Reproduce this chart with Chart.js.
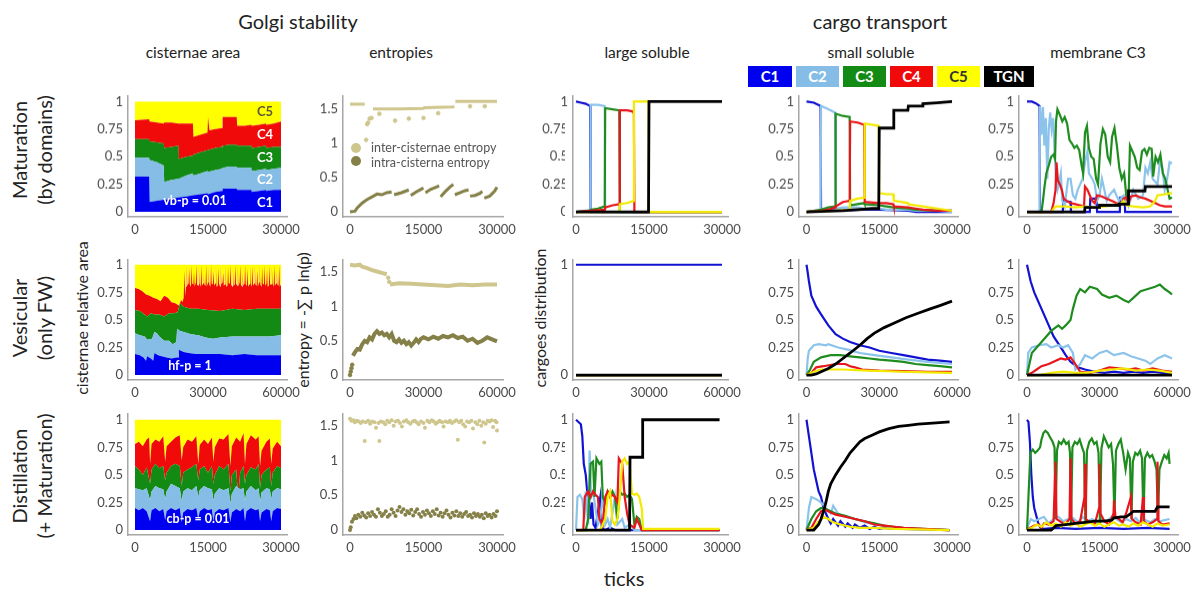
<!DOCTYPE html>
<html>
<head>
<meta charset="utf-8">
<script src="https://cdn.jsdelivr.net/npm/chart.js@4.4.1/dist/chart.umd.min.js"></script>
<style>
  body { margin: 0; width: 1195px; height: 593px; background: #fff; position: relative; overflow: hidden; font-family: Lato, sans-serif; color: #222; }
  .t { position: absolute; white-space: nowrap; transform: translate(-50%, -50%); }
  .v { position: absolute; white-space: nowrap; transform: translate(-50%, -50%) rotate(-90deg); text-align: center; line-height: 1.25; }
  .box { position: absolute; top: 66px; height: 21px; font: bold 15px Lato, sans-serif; color: #fff; text-align: center; line-height: 21px; }
  .cut { position: absolute; background: #fff; width: 7px; }
  canvas { position: absolute; }
</style>
</head>
<body>

<div class="t" style="left:298px;top:21px;font-size:20px;">Golgi stability</div>
<div class="t" style="left:880px;top:21px;font-size:20px;">cargo transport</div>

<div class="t" style="left:193px;top:52px;font-size:15.5px;">cisternae area</div>
<div class="t" style="left:401px;top:52px;font-size:15.5px;">entropies</div>
<div class="t" style="left:647px;top:52px;font-size:15.5px;">large soluble</div>
<div class="t" style="left:871px;top:52px;font-size:15.5px;">small soluble</div>
<div class="t" style="left:1098px;top:52px;font-size:15.5px;">membrane C3</div>

<div class="box" style="left:748px;width:44px;background:#0000f0;">C1</div>
<div class="box" style="left:796px;width:43px;background:#85bde6;">C2</div>
<div class="box" style="left:843px;width:43px;background:#138a13;">C3</div>
<div class="box" style="left:890px;width:43px;background:#f00a0a;">C4</div>
<div class="box" style="left:937px;width:43px;background:#ffff00;color:#333;">C5</div>
<div class="box" style="left:984px;width:50px;background:#000;">TGN</div>

<div class="v" style="left:32px;top:150px;font-size:20px;">Maturation<br>(by domains)</div>
<div class="v" style="left:32px;top:318px;font-size:20px;">Vesicular<br>(only FW)</div>
<div class="v" style="left:32px;top:476px;font-size:20px;">Distillation<br>(+ Maturation)</div>

<div class="v" style="left:82px;top:318px;font-size:16px;">cisternae relative area</div>
<div class="v" style="left:303px;top:320px;font-size:16px;">entropy = -∑ p ln(p)</div>
<div class="v" style="left:540px;top:318px;font-size:16px;">cargoes distribution</div>

<div class="t" style="left:624px;top:578px;font-size:20px;">ticks</div>

<script>
// ---------- shared ticks ----------
const X30 = [0, 15000, 30000];
const X60 = [0, 30000, 60000];
const Y_FRAC = [0, 0.25, 0.5, 0.75, 1];
const Y_ENDS = [0, 1];
const Y_ENT = [0, 0.5, 1, 1.5];

const AREA = ['#0000f0', '#85bde6', '#138a13', '#f00a0a', '#ffff00'];
const LINE = ['#1212d2', '#8cc3ea', '#1e8c1e', '#e8161c', '#f2ea00', '#000000'];
const INTER = '#cfc68e', INTRA = '#858048';

// ---------- cisternae area: upper boundary of each layer (C1..C5) ----------
const r1AreaC1 = [[0,0.32],[2900,0.32],[3000,0.09],[4500,0.1],[5900,0.11],[6000,0.11],[7500,0.12],[8900,0.13],[9000,0.13],[10500,0.14],[11900,0.15],[12000,0.15],[13500,0.16],[14900,0.17],[15000,0.16],[16500,0.18],[17900,0.19],[18000,0.21],[19500,0.21],[20900,0.21],[21000,0.2],[22500,0.2],[23900,0.2],[24000,0.18],[25500,0.19],[26900,0.2],[27000,0.19],[28500,0.2],[30000,0.2]];
const r1AreaC2 = [[0,0.49],[2900,0.49],[3000,0.47],[4500,0.45],[5900,0.42],[6000,0.27],[7500,0.29],[8900,0.3],[9000,0.3],[10500,0.33],[11900,0.35],[12000,0.33],[13500,0.35],[14900,0.37],[15000,0.36],[16500,0.38],[17900,0.39],[18000,0.4],[19500,0.41],[20900,0.41],[21000,0.4],[22500,0.4],[23900,0.4],[24000,0.37],[25500,0.38],[26900,0.39],[27000,0.38],[28500,0.39],[30000,0.4]];
const r1AreaC3 = [[0,0.66],[2900,0.66],[3000,0.64],[4500,0.63],[5900,0.62],[6000,0.58],[7500,0.59],[8900,0.6],[9000,0.48],[10500,0.5],[11900,0.51],[12000,0.52],[13500,0.54],[14900,0.56],[15000,0.56],[16500,0.58],[17900,0.59],[18000,0.6],[19500,0.61],[20900,0.61],[21000,0.6],[22500,0.6],[23900,0.6],[24000,0.58],[25500,0.59],[26900,0.6],[27000,0.58],[28500,0.59],[30000,0.59]];
const r1AreaC4 = [[0,0.83],[2900,0.84],[3000,0.82],[4500,0.81],[5900,0.8],[6000,0.81],[7500,0.81],[8900,0.8],[9000,0.8],[10500,0.8],[11900,0.8],[12000,0.68],[13500,0.7],[14900,0.72],[15000,0.86],[15300,0.74],[16500,0.75],[17900,0.76],[18000,0.86],[19500,0.86],[20900,0.86],[21000,0.78],[22500,0.78],[23900,0.79],[24000,0.78],[25500,0.79],[26900,0.8],[27000,0.79],[28500,0.8],[30000,0.82]];
const r1AreaC5 = [[0,1],[30000,1]];

const r2AreaC1 = [[0,0.19],[2000,0.18],[3500,0.16],[4500,0.13],[5000,0.17],[6500,0.15],[7500,0.13],[8000,0.2],[9500,0.18],[11000,0.17],[13000,0.16],[15000,0.15],[17000,0.16],[17800,0.16],[18000,0.23],[20000,0.21],[22000,0.2],[25000,0.19],[30000,0.19],[35000,0.19],[40000,0.18],[45000,0.19],[50000,0.18],[55000,0.18],[60000,0.18]];
const r2AreaC2 = [[0,0.38],[2000,0.36],[4000,0.35],[5000,0.32],[7000,0.33],[8000,0.39],[9000,0.38],[10000,0.35],[12000,0.31],[14000,0.31],[15500,0.28],[17000,0.3],[17300,0.42],[18500,0.4],[20000,0.39],[23000,0.37],[26000,0.36],[29000,0.34],[32000,0.33],[35000,0.34],[40000,0.35],[45000,0.35],[50000,0.35],[55000,0.35],[60000,0.36]];
const r2AreaC3 = [[0,0.59],[2000,0.58],[4000,0.55],[5000,0.53],[6500,0.56],[8000,0.55],[10000,0.55],[12000,0.53],[14000,0.56],[16000,0.56],[17500,0.57],[18500,0.65],[20000,0.62],[23000,0.6],[26000,0.6],[30000,0.59],[35000,0.58],[40000,0.6],[45000,0.59],[50000,0.6],[55000,0.6],[60000,0.6]];
const r2AreaC4 = [[0,0.79],[1500,0.78],[3000,0.76],[4500,0.73],[6000,0.72],[7500,0.7],[9000,0.69],[10500,0.67],[12000,0.72],[13500,0.7],[15000,0.66],[16500,0.65],[18000,0.63],[19000,0.68],[19500,0.66],[20000,0.7],[20300,0.95],[20600,0.72],
  [21000,0.8],[21250,1],[21500,0.81],[22000,0.83],[22250,0.97],[22500,0.82],[23000,0.8],[23250,1],[23500,0.83],[24000,0.82],[24250,0.94],[24500,0.8],
  [25000,0.84],[25250,1],[25500,0.82],[26000,0.81],[26250,0.98],[26500,0.83],[27000,0.8],[27250,1],[27500,0.81],[28000,0.83],[28250,0.92],[28500,0.82],
  [29000,0.81],[29250,1],[29500,0.8],[30000,0.84],[30250,0.99],[30500,0.82],[31000,0.8],[31250,1],[31500,0.83],[32000,0.82],[32250,0.95],[32500,0.81],
  [33000,0.83],[33250,1],[33500,0.8],[34000,0.81],[34250,0.97],[34500,0.83],[35000,0.8],[35250,1],[35500,0.82],[36000,0.84],[36250,0.93],[36500,0.81],
  [37000,0.82],[37250,1],[37500,0.8],[38000,0.81],[38250,0.98],[38500,0.83],[39000,0.83],[39250,1],[39500,0.82],[40000,0.8],[40250,0.96],[40500,0.81],
  [41000,0.82],[41250,1],[41500,0.83],[42000,0.81],[42250,0.99],[42500,0.8],[43000,0.84],[43250,1],[43500,0.82],[44000,0.8],[44250,0.94],[44500,0.81],
  [45000,0.83],[45250,1],[45500,0.82],[46000,0.81],[46250,0.97],[46500,0.8],[47000,0.82],[47250,1],[47500,0.83],[48000,0.8],[48250,0.99],[48500,0.81],
  [49000,0.83],[49250,1],[49500,0.82],[50000,0.81],[50250,0.95],[50500,0.8],[51000,0.84],[51250,1],[51500,0.82],[52000,0.8],[52250,0.98],[52500,0.83],
  [53000,0.82],[53250,1],[53500,0.81],[54000,0.83],[54250,0.96],[54500,0.8],[55000,0.81],[55250,1],[55500,0.82],[56000,0.82],[56250,0.99],[56500,0.83],
  [57000,0.8],[57250,1],[57500,0.81],[58000,0.83],[58250,0.95],[58500,0.82],[59000,0.81],[59250,1],[59500,0.8],[60000,0.82]];
const r2AreaC5 = [[0,1],[60000,1]];

const r3AreaC1 = [[0,0.2],[800,0.18],[1600,0.2],[2400,0.17],[3100,0.08],[3400,0.18],[4200,0.2],[5000,0.17],[5800,0.19],[6200,0.09],[6500,0.17],[7400,0.2],[8300,0.18],[9200,0.2],[9600,0.07],[9900,0.16],[10800,0.19],[11700,0.18],[12600,0.2],[13000,0.1],[13300,0.17],[14200,0.2],[15000,0.18],[15800,0.19],[16100,0.08],[16400,0.16],[17300,0.19],[18200,0.18],[19200,0.2],[19600,0.07],[19900,0.16],[20800,0.19],[21600,0.17],[22300,0.2],[22600,0.08],[22900,0.17],[23800,0.2],[24800,0.18],[25400,0.19],[25700,0.08],[26000,0.16],[27000,0.19],[27700,0.18],[28000,0.08],[28300,0.17],[29200,0.2],[30000,0.19]];
const r3AreaC2 = [[0,0.38],[800,0.37],[1600,0.36],[2400,0.38],[3100,0.27],[3400,0.35],[4200,0.4],[5000,0.38],[5800,0.37],[6200,0.28],[6500,0.35],[7400,0.42],[8300,0.4],[9200,0.38],[9600,0.26],[9900,0.35],[10800,0.38],[11700,0.36],[12600,0.4],[13000,0.3],[13300,0.36],[14200,0.4],[15000,0.38],[15800,0.37],[16100,0.27],[16400,0.33],[17300,0.38],[18200,0.36],[19200,0.38],[19600,0.24],[19900,0.33],[20800,0.4],[21600,0.37],[22300,0.38],[22600,0.26],[22900,0.35],[23800,0.4],[24800,0.36],[25400,0.38],[25700,0.25],[26000,0.34],[27000,0.38],[27700,0.37],[28000,0.28],[28300,0.35],[29200,0.38],[30000,0.37]];
const r3AreaC3 = [[0,0.58],[800,0.55],[1600,0.5],[2400,0.57],[3100,0.42],[3400,0.55],[4200,0.6],[5000,0.56],[5800,0.58],[6200,0.45],[6500,0.52],[7400,0.58],[8300,0.6],[9200,0.58],[9600,0.4],[9900,0.52],[10800,0.55],[11700,0.57],[12600,0.6],[13000,0.45],[13300,0.55],[14200,0.58],[15000,0.52],[15800,0.58],[16100,0.42],[16400,0.5],[17300,0.58],[18200,0.55],[19200,0.6],[19600,0.35],[19900,0.5],[20800,0.55],[21200,0.3],[21600,0.52],[22300,0.58],[22600,0.42],[22900,0.5],[23800,0.57],[24800,0.55],[25400,0.6],[25700,0.38],[26000,0.5],[27000,0.55],[27700,0.57],[28000,0.4],[28300,0.52],[29200,0.58],[30000,0.56]];
const r3AreaC4 = [[0,0.78],[800,0.8],[1600,0.76],[2400,0.82],[2900,0.84],[3100,0.6],[3400,0.78],[4200,0.82],[5000,0.8],[5800,0.85],[6200,0.62],[6500,0.76],[7400,0.8],[8300,0.84],[9200,0.86],[9600,0.63],[9900,0.75],[10800,0.82],[11700,0.8],[12600,0.85],[13000,0.6],[13300,0.77],[14200,0.82],[15000,0.78],[15800,0.84],[16100,0.62],[16400,0.75],[17300,0.83],[18200,0.82],[19200,0.87],[19600,0.58],[19900,0.76],[20800,0.84],[21600,0.8],[22300,0.88],[22600,0.6],[22900,0.78],[23800,0.86],[24800,0.82],[25400,0.85],[25700,0.58],[26000,0.72],[27000,0.8],[27700,0.83],[28000,0.6],[28300,0.74],[29200,0.8],[30000,0.76]];
const r3AreaC5 = [[0,1],[30000,1]];

// ---------- entropies ----------
const r1Inter = [[0,1.57],[3000,1.57],[3150,null],[4700,1.5],[10000,1.5],[15000,1.51],[15200,1.52],[21000,1.53],[21300,1.54],[21400,null],[21500,1.61],[30000,1.61]];
const r1InterDots = [[3300,1.05],[3500,1.28],[3700,1.3],[4000,1.36],[4400,1.37],[6000,1.43],[9200,1.33],[12000,1.36],[15000,1.37],[18000,1.44],[24500,1.54],[27500,1.54]];
const r1Intra = [[0,0],[1000,0.01],[1500,0.06],[2500,0.13],[3500,0.18],[4500,0.22],[5500,0.26],[6500,0.25],[7500,0.28],[8500,0.29],[8800,null],[9000,0.25],[10500,0.28],[12000,0.32],[12200,null],[12400,0.24],[13500,0.29],[14500,0.33],[15000,0.35],[15200,null],[15400,0.28],[16500,0.33],[17500,0.36],[18200,0.38],[18350,null],[18500,0.22],[19500,0.3],[20500,0.37],[21100,0.4],[21250,null],[21400,0.25],[22500,0.28],[23500,0.31],[24200,0.32],[24350,null],[24500,0.23],[25500,0.24],[26500,0.27],[27000,0.3],[27200,null],[27400,0.2],[28500,0.23],[29500,0.3],[30000,0.36]];

const r2Inter = [[0,1.61],[2000,1.6],[4000,1.61],[5000,1.58],[7000,1.56],[9000,1.53],[11000,1.51],[13000,1.49],[15000,1.47],[15300,null],[16300,1.32],[20000,1.34],[25000,1.33],[30000,1.32],[35000,1.31],[40000,1.3],[45000,1.32],[50000,1.31],[55000,1.32],[60000,1.32]];
const r2InterDots = [[15600,1.42],[16000,1.36]];
const r2Intra = [[1200,0.28],[2000,0.33],[3000,0.38],[4000,0.37],[5000,0.45],[6000,0.5],[7000,0.48],[8000,0.55],[9000,0.52],[10000,0.6],[11000,0.64],[12000,0.6],[13000,0.62],[14000,0.58],[15000,0.6],[16000,0.55],[17000,0.6],[18000,0.5],[19000,0.48],[20000,0.52],[21000,0.47],[22000,0.5],[23000,0.45],[24000,0.48],[25000,0.43],[26000,0.47],[27000,0.52],[28000,0.48],[29000,0.53],[30000,0.55],[32000,0.52],[34000,0.56],[36000,0.53],[38000,0.57],[40000,0.55],[42000,0.58],[44000,0.54],[46000,0.56],[48000,0.5],[50000,0.53],[52000,0.47],[54000,0.5],[56000,0.55],[58000,0.52],[60000,0.49]];
const r2IntraDots = [[0,0],[300,0.05],[600,0.1],[900,0.15]];

const r3Inter = [[0,1.6],[300,1.57],[700,1.58],[1000,1.55],[1400,1.57],[1800,1.56],[2200,1.54],[2600,1.56],[3000,1.28],[3200,1.55],[3700,1.57],[4100,1.53],[4500,1.56],[5000,1.55],[5300,1.47],[5800,1.54],[6000,1.28],[6300,1.56],[6800,1.55],[7200,1.52],[7600,1.57],[8000,1.55],[8500,1.58],[8900,1.5],[9300,1.56],[9800,1.57],[10200,1.54],[10600,1.49],[11000,1.56],[11500,1.58],[11900,1.55],[12300,1.53],[12800,1.56],[13200,1.57],[13600,1.55],[14000,1.52],[14500,1.56],[15000,1.54],[15300,1.47],[15800,1.57],[16200,1.55],[16700,1.58],[17100,1.56],[17500,1.53],[17900,1.55],[18300,1.57],[18800,1.55],[19100,1.49],[19500,1.56],[20000,1.55],[20400,1.57],[20800,1.54],[21300,1.56],[21700,1.58],[22000,1.3],[22300,1.55],[22700,1.57],[23100,1.52],[23500,1.49],[23900,1.56],[24300,1.55],[24800,1.57],[25100,1.46],[25600,1.55],[26000,1.52],[26400,1.57],[26800,1.5],[27200,1.55],[27400,1.26],[27700,1.53],[28100,1.57],[28500,1.56],[28900,1.58],[29200,1.48],[29600,1.57],[29900,1.55],[30000,1.43]];
const r3Intra = [[0,0],[150,0.04],[400,0.12],[700,0.16],[1000,0.2],[1300,0.17],[1700,0.22],[2100,0.19],[2500,0.25],[2900,0.21],[3300,0.18],[3700,0.24],[4100,0.2],[4500,0.26],[4900,0.22],[5300,0.19],[5700,0.3],[6100,0.25],[6500,0.2],[6900,0.23],[7300,0.27],[7700,0.19],[8100,0.22],[8500,0.3],[8900,0.25],[9300,0.2],[9700,0.28],[10100,0.33],[10500,0.26],[10900,0.3],[11300,0.22],[11700,0.27],[12100,0.24],[12500,0.29],[12900,0.21],[13300,0.26],[13700,0.3],[14100,0.23],[14500,0.19],[14900,0.26],[15300,0.22],[15700,0.28],[16100,0.24],[16500,0.2],[16900,0.27],[17300,0.23],[17700,0.3],[18100,0.21],[18500,0.25],[18900,0.19],[19300,0.24],[19700,0.28],[20100,0.22],[20500,0.18],[20900,0.25],[21300,0.21],[21700,0.27],[22100,0.2],[22500,0.24],[22900,0.19],[23300,0.23],[23700,0.26],[24100,0.2],[24500,0.22],[24900,0.18],[25300,0.24],[25700,0.2],[26100,0.23],[26500,0.19],[26900,0.22],[27300,0.17],[27700,0.24],[28100,0.2],[28500,0.22],[28900,0.18],[29300,0.23],[29700,0.2],[30000,0.27]];

// ---------- large soluble ----------
const r1LargeC1 = [[0,1],[1000,0.99],[2000,0.98],[2900,0.96],[3000,0],[30000,0]];
const r1LargeC2 = [[0,0],[2000,0.01],[2900,0.02],[3000,0.97],[4500,0.97],[5900,0.96],[6000,0],[30000,0]];
const r1LargeC3 = [[0,0],[2900,0.01],[3000,0.02],[4500,0.03],[5900,0.05],[6000,0.94],[7500,0.93],[8900,0.92],[9000,0],[30000,0]];
const r1LargeC4 = [[0,0],[5900,0.02],[6000,0.04],[7500,0.06],[8900,0.07],[9000,0.92],[10500,0.92],[11700,0.91],[11900,0.89],[12000,0],[30000,0]];
const r1LargeC5 = [[0,0],[8900,0],[9000,0.07],[10500,0.08],[11800,0.1],[11900,1],[14900,1],[15000,0],[30000,0]];
const r1LargeTGN = [[0,0],[14900,0],[15000,1],[30000,1]];

const r2LargeC1 = [[0,1],[60000,1]];
const r2LargeC2 = [[0,0],[60000,0]];
const r2LargeC3 = [[0,0],[60000,0]];
const r2LargeC4 = [[0,0],[60000,0]];
const r2LargeC5 = [[0,0],[60000,0]];
const r2LargeTGN = [[0,0],[60000,0]];

const r3LargeC1 = [[0,1],[500,0.98],[1000,0.96],[1300,0.85],[1600,0.6],[2000,0.5],[2300,0.35],[2600,0.3],[3000,0.1],[3300,0.25],[3600,0.05],[4000,0.02],[5000,0.3],[5300,0.02],[6000,0],[7000,0.02],[8000,0],[29500,0]];
const r3LargeC2 = [[0,0],[300,0.3],[800,0.32],[1300,0.28],[1700,0.1],[2000,0.35],[2500,0.05],[2800,0.72],[3100,0.3],[3500,0.35],[4000,0.2],[4500,0.05],[5000,0.1],[5500,0.32],[6000,0.05],[6500,0.1],[7000,0.02],[8000,0.3],[8500,0.05],[9500,0.1],[10000,0.02],[11000,0.05],[12000,0],[29500,0]];
const r3LargeC3 = [[0,0],[2000,0],[2500,0.1],[3000,0.6],[3500,0.62],[3800,0.3],[4200,0.65],[4800,0.6],[5200,0.62],[5500,0.3],[6000,0.25],[6500,0.35],[7000,0.3],[7500,0.35],[8000,0.3],[8500,0.1],[9000,0.35],[9500,0.32],[10000,0.33],[10500,0.3],[11000,0.32],[11500,0.28],[12000,0.05],[12500,0.12],[13000,0.1],[13500,0],[29500,0]];
const r3LargeC4 = [[0,0],[1500,0],[1800,0.3],[2500,0.35],[3000,0.3],[3500,0.35],[4000,0.32],[4500,0.3],[4800,0.1],[5500,0.05],[6000,0.3],[6500,0.35],[7000,0.3],[7500,0.32],[8000,0.3],[8500,0.25],[8800,0.65],[9500,0.6],[10000,0.3],[10500,0.15],[11000,0.05],[12000,0.02],[12500,0.1],[13000,0.05],[13500,0],[29500,0]];
const r3LargeC5 = [[0,0],[5000,0],[5500,0.05],[6000,0.1],[6500,0.3],[7000,0.35],[7500,0.08],[8000,0.05],[8500,0.1],[9000,0.3],[9500,0.62],[10000,0.65],[10500,0.6],[11000,0.62],[11500,0.33],[12000,0.32],[12500,0.33],[13000,0.3],[13500,0.2],[13800,0.01],[29500,0.01]];
const r3LargeTGN = [[0,0],[11000,0],[11100,0.66],[13600,0.66],[13700,1],[29500,1]];

// ---------- small soluble ----------
const r1SmallC1 = [[0,1],[1500,0.99],[2900,0.96],[3000,0.01],[12000,0.02],[15000,0.02],[21000,0.01],[22500,0],[30000,0]];
const r1SmallC2 = [[0,0],[1500,0.01],[2900,0.02],[3000,0.96],[4500,0.93],[5900,0.9],[6000,0.03],[7500,0.04],[10500,0.04],[11900,0.03],[15000,0.03],[16500,0.02],[21000,0.02],[22500,0.01],[27000,0.01],[30000,0]];
const r1SmallC3 = [[0,0],[1500,0.01],[3000,0.02],[4500,0.04],[5900,0.05],[6000,0.89],[7500,0.87],[8900,0.86],[9000,0.06],[10500,0.07],[11900,0.08],[12000,0.07],[15000,0.06],[16500,0.05],[18000,0.04],[21000,0.03],[22500,0.02],[27000,0.01],[30000,0.01]];
const r1SmallC4 = [[0,0],[3000,0.01],[4500,0.02],[5900,0.04],[6000,0.05],[7500,0.09],[8900,0.1],[9000,0.82],[10500,0.81],[11900,0.79],[12000,0.09],[15000,0.08],[16500,0.08],[17900,0.07],[18000,0.05],[21000,0.04],[22500,0.03],[24000,0.02],[27000,0.01],[30000,0.01]];
const r1SmallC5 = [[0,0],[5900,0.01],[8900,0.02],[9000,0.1],[10500,0.12],[11900,0.13],[12000,0.8],[13500,0.79],[14900,0.78],[15000,0.17],[16500,0.16],[17900,0.16],[18000,0.1],[19500,0.09],[20900,0.08],[21000,0.07],[22500,0.06],[24000,0.05],[27000,0.03],[30000,0.01]];
const r1SmallTGN = [[0,0],[7500,0.01],[10500,0.02],[13500,0.03],[14900,0.03],[15000,0.76],[17900,0.76],[18000,0.92],[20900,0.92],[21000,0.96],[23900,0.96],[24000,0.98],[27000,0.99],[30000,1]];

const r2SmallC1 = [[0,1],[500,0.93],[1000,0.85],[2000,0.72],[4000,0.62],[6000,0.55],[9000,0.45],[12000,0.37],[15000,0.33],[18000,0.3],[22000,0.27],[26000,0.25],[30000,0.22],[35000,0.2],[40000,0.18],[45000,0.16],[50000,0.14],[55000,0.13],[60000,0.12]];
const r2SmallC2 = [[0,0],[500,0.15],[1000,0.22],[3000,0.27],[5000,0.28],[8000,0.27],[9000,0.28],[13000,0.25],[17000,0.23],[22000,0.2],[28000,0.18],[35000,0.16],[42000,0.14],[50000,0.12],[60000,0.1]];
const r2SmallC3 = [[0,0],[1500,0.05],[3000,0.12],[6000,0.16],[10000,0.18],[14000,0.18],[18000,0.17],[22000,0.16],[26000,0.15],[30000,0.14],[35000,0.13],[40000,0.12],[45000,0.1],[50000,0.09],[55000,0.08],[60000,0.07]];
const r2SmallC4 = [[0,0],[2000,0.02],[4000,0.07],[7000,0.08],[12000,0.1],[16000,0.1],[18000,0.08],[20000,0.07],[23000,0.05],[30000,0.04],[40000,0.035],[50000,0.03],[60000,0.03]];
const r2SmallC5 = [[0,0],[3000,0.03],[6000,0.05],[15000,0.05],[25000,0.04],[40000,0.03],[50000,0.025],[60000,0.02]];
const r2SmallTGN = [[0,0],[2000,0],[4000,0.01],[6000,0.03],[9000,0.06],[12000,0.1],[15000,0.15],[18000,0.2],[22000,0.27],[25000,0.33],[28000,0.38],[32000,0.43],[36000,0.47],[41000,0.52],[46000,0.56],[51000,0.6],[55000,0.63],[60000,0.67]];

const r3SmallC1 = [[0,1],[500,0.85],[1000,0.7],[1500,0.55],[2000,0.45],[2500,0.35],[3000,0.3],[3500,0.2],[4000,0.15],[4500,0.1],[5000,0.06],[5500,0.1],[6500,0.04],[7000,0.08],[8000,0.03],[8500,0.06],[9500,0.02],[10000,0.05],[11000,0.02],[12000,0.04],[13000,0.01],[14000,0.03],[15000,0.01],[16000,0.02],[18000,0.01],[20000,0.01],[29500,0]];
const r3SmallC2 = [[0,0],[500,0.2],[1000,0.3],[2000,0.28],[3000,0.25],[4000,0.2],[5000,0.15],[5500,0.22],[6500,0.15],[8000,0.12],[10000,0.1],[12000,0.07],[14000,0.05],[17000,0.03],[22000,0.01],[29500,0]];
const r3SmallC3 = [[0,0],[500,0.05],[1000,0.1],[2000,0.17],[3000,0.2],[4000,0.19],[5000,0.17],[6000,0.15],[8000,0.13],[10000,0.1],[12000,0.08],[14000,0.06],[16000,0.04],[18000,0.03],[20000,0.02],[24000,0.01],[29500,0]];
const r3SmallC4 = [[0,0],[1000,0.02],[2000,0.1],[3000,0.17],[4000,0.18],[5000,0.16],[6000,0.14],[8000,0.12],[10000,0.1],[12000,0.08],[14000,0.05],[16000,0.04],[18000,0.03],[20000,0.02],[24000,0.01],[29500,0]];
const r3SmallC5 = [[0,0],[1500,0.02],[2500,0.08],[3500,0.12],[4500,0.1],[5500,0.07],[7000,0.05],[9000,0.03],[11000,0.02],[14000,0.02],[18000,0.01],[29500,0]];
const r3SmallTGN = [[0,0],[1500,0],[2500,0.05],[3000,0.1],[3500,0.17],[4000,0.25],[4500,0.35],[5000,0.42],[6000,0.5],[7000,0.57],[8000,0.63],[9000,0.7],[10000,0.75],[11000,0.8],[12000,0.83],[13500,0.86],[15000,0.89],[17000,0.92],[19000,0.94],[21000,0.95],[23000,0.96],[26000,0.97],[29500,0.98]];

// ---------- membrane C3 ----------
const r1MemC1 = [[0,1],[1000,1],[2000,0.98],[2600,0.96],[2700,0],[7400,0],[7500,0.1],[9000,0.09],[9100,0],[13000,0],[13100,0.12],[14400,0.12],[14500,0],[19200,0],[19300,0.13],[20200,0.13],[20300,0],[30000,0]];
const r1MemC2 = [[0,0],[2600,0],[2700,0.96],[3000,0.7],[3300,0.95],[3600,0.6],[3900,0.85],[4200,0.3],[4500,0.75],[4800,0.9],[5100,0.75],[5400,0.85],[5700,0.55],[6000,0.3],[6300,0.2],[6600,0.25],[7000,0.35],[7300,0.1],[7800,0.05],[8500,0.3],[9000,0.3],[9500,0.15],[10000,0.12],[10500,0.2],[11000,0.25],[11500,0.3],[12000,0.45],[12500,0.55],[12800,0.35],[13500,0.3],[14000,0.25],[14500,0.1],[15000,0.15],[15500,0.3],[16000,0.2],[16500,0.1],[17000,0.15],[18000,0.2],[19000,0.1],[20000,0.15],[21000,0.05],[21500,0.12],[22000,0.2],[23000,0.12],[24000,0.15],[24500,0.4],[25000,0.35],[25500,0.45],[26000,0.3],[27000,0.25],[27500,0.45],[28000,0.4],[28500,0.2],[29000,0.3],[29500,0.45],[30000,0.44]];
const r1MemC3 = [[0,0],[3000,0],[3300,0.1],[3600,0.22],[4000,0.35],[4500,0.42],[5000,0.5],[5500,0.52],[5800,0.48],[6000,0.82],[6300,0.93],[6800,0.88],[7300,0.82],[7800,0.86],[8300,0.8],[8800,0.65],[9300,0.62],[9800,0.58],[10300,0.6],[10800,0.56],[11300,0.42],[11600,0.35],[12000,0.72],[12400,0.78],[12800,0.58],[13300,0.5],[13800,0.48],[14300,0.3],[14700,0.25],[15200,0.62],[15700,0.75],[16200,0.7],[16700,0.5],[17200,0.45],[17600,0.68],[18100,0.76],[18600,0.6],[19100,0.4],[19600,0.3],[20100,0.35],[20600,0.12],[21000,0.1],[21300,0.6],[21800,0.55],[22300,0.5],[22800,0.4],[23300,0.38],[23800,0.55],[24300,0.57],[24800,0.52],[25300,0.58],[25800,0.57],[26100,0.32],[26600,0.5],[27100,0.45],[27600,0.52],[28100,0.35],[28600,0.3],[29100,0.2],[29500,0.12],[30000,0.13]];
const r1MemC4 = [[0,0],[5000,0],[5500,0.08],[5900,0.2],[6100,0.45],[6400,0.28],[6800,0.25],[7200,0.2],[7600,0.12],[8200,0.1],[9000,0.08],[10000,0.07],[11000,0.06],[11800,0.05],[12000,0.23],[12500,0.2],[13000,0.15],[13500,0.1],[14000,0.08],[14500,0.15],[15500,0.14],[16500,0.12],[17500,0.1],[18500,0.08],[19500,0.07],[20000,0.12],[20500,0.13],[21000,0.08],[21500,0.14],[22500,0.15],[23500,0.13],[24500,0.12],[25500,0.1],[26500,0.08],[27500,0.06],[28500,0.05],[30000,0.05]];
const r1MemC5 = [[0,0],[5000,0],[5500,0.03],[6000,0.05],[8000,0.05],[10000,0.04],[12000,0.05],[14000,0.04],[16000,0.05],[18000,0.06],[19500,0.08],[20000,0.1],[20500,0.06],[22000,0.05],[24000,0.04],[25500,0.05],[26500,0.1],[27000,0.15],[28500,0.16],[30000,0.17]];
const r1MemTGN = [[0,0],[11900,0],[12000,0.04],[14900,0.04],[15000,0.06],[18900,0.06],[19000,0.07],[20900,0.07],[21000,0.19],[24400,0.19],[24500,0.23],[30000,0.23]];

const r2MemC1 = [[0,1],[500,0.95],[1500,0.85],[3000,0.75],[5000,0.65],[7000,0.55],[9000,0.45],[11000,0.35],[14000,0.25],[16000,0.18],[18000,0.12],[21000,0.07],[24000,0.05],[28000,0.03],[32000,0.02],[36000,0.03],[40000,0.02],[44000,0.03],[48000,0.02],[52000,0.03],[56000,0.02],[60000,0.01]];
const r2MemC2 = [[0,0],[500,0.2],[2000,0.25],[5000,0.27],[8000,0.28],[10000,0.25],[13000,0.27],[15000,0.25],[17000,0.27],[19000,0.2],[20000,0.05],[22000,0.1],[24000,0.18],[27000,0.15],[30000,0.2],[33000,0.22],[36000,0.18],[40000,0.2],[43000,0.17],[46000,0.15],[49000,0.13],[51000,0.1],[54000,0.15],[57000,0.18],[60000,0.15]];
const r2MemC3 = [[0,0],[1000,0.1],[2000,0.2],[4000,0.25],[6000,0.3],[8000,0.35],[10000,0.4],[13000,0.45],[14500,0.42],[16000,0.45],[18000,0.5],[19000,0.6],[20500,0.72],[22000,0.78],[24000,0.75],[26000,0.8],[29000,0.78],[31000,0.73],[34000,0.7],[37000,0.72],[40000,0.68],[42000,0.66],[44000,0.7],[47000,0.76],[50000,0.78],[53000,0.8],[55000,0.82],[57000,0.78],[59000,0.75],[60000,0.73]];
const r2MemC4 = [[0,0],[2000,0.02],[4000,0.05],[6000,0.08],[9000,0.1],[11000,0.12],[14000,0.15],[16000,0.14],[18000,0.16],[20000,0.1],[22000,0.03],[26000,0.02],[30000,0.04],[34000,0.07],[38000,0.06],[42000,0.05],[45000,0.06],[48000,0.04],[52000,0.06],[56000,0.04],[60000,0.03]];
const r2MemC5 = [[0,0],[5000,0],[10000,0.02],[15000,0.03],[20000,0.02],[25000,0.02],[30000,0.04],[35000,0.05],[40000,0.06],[45000,0.04],[50000,0.05],[55000,0.04],[60000,0.02]];
const r2MemTGN = [[0,0],[60000,0]];

const r3MemC1 = [[0,1],[300,0.98],[600,0.8],[900,0.5],[1200,0.3],[1500,0.2],[1800,0.15],[2100,0.1],[2400,0.05],[2800,0.02],[3500,0.01],[6000,0.02],[10000,0.01],[15000,0.02],[20000,0.01],[25000,0.02],[29500,0.01]];
const r3MemC2 = [[0,0],[300,0.05],[800,0.1],[1500,0.08],[2500,0.1],[3500,0.12],[4500,0.06],[5500,0.1],[6500,0.12],[7500,0.08],[8500,0.1],[9500,0.11],[10500,0.07],[11500,0.12],[12500,0.08],[13500,0.1],[14500,0.06],[15500,0.1],[16500,0.08],[17500,0.12],[18500,0.1],[19500,0.07],[20500,0.1],[21500,0.08],[22500,0.11],[23500,0.06],[24500,0.09],[25500,0.07],[26500,0.1],[27500,0.08],[28500,0.09],[29500,0.1]];
const r3MemC3 = [[0,0],[300,0.3],[700,0.7],[1200,0.73],[1700,0.7],[2200,0.72],[2700,0.75],[3000,0.82],[3400,0.88],[3800,0.9],[4300,0.88],[4800,0.84],[5300,0.8],[5700,0.75],[5900,0.1],[6200,0.72],[6600,0.8],[7100,0.78],[7600,0.82],[8100,0.78],[8600,0.8],[8900,0.7],[9100,0.06],[9400,0.75],[9900,0.8],[10400,0.78],[10900,0.82],[11400,0.75],[11800,0.7],[12100,0.05],[12400,0.72],[12900,0.8],[13400,0.83],[13900,0.78],[14400,0.8],[14800,0.7],[15100,0.05],[15400,0.74],[15900,0.85],[16400,0.8],[16900,0.75],[17400,0.78],[17800,0.6],[18100,0.1],[18400,0.72],[18900,0.78],[19400,0.82],[19900,0.7],[20400,0.55],[20900,0.7],[21300,0.65],[21600,0.1],[21900,0.62],[22400,0.7],[22900,0.68],[23400,0.72],[23800,0.65],[24100,0.08],[24400,0.65],[24900,0.7],[25400,0.66],[25900,0.68],[26400,0.62],[26800,0.55],[27100,0.1],[27400,0.55],[27900,0.62],[28400,0.68],[28900,0.65],[29300,0.7],[29500,0.6]];
const r3MemC4 = [[0,0],[600,0.02],[1500,0.04],[2500,0.05],[3000,0.02],[3500,0.06],[4500,0.05],[5500,0.08],[5800,0.5],[5900,0.62],[6100,0.1],[6800,0.08],[7800,0.05],[8800,0.1],[9000,0.65],[9200,0.1],[10000,0.06],[11000,0.08],[11900,0.3],[12000,0.6],[12200,0.1],[13000,0.07],[14000,0.05],[14900,0.2],[15000,0.6],[15200,0.15],[16000,0.08],[17000,0.05],[17900,0.15],[18000,0.27],[18300,0.12],[19000,0.1],[19800,0.07],[20500,0.15],[21500,0.3],[21700,0.1],[22500,0.07],[23500,0.05],[24000,0.3],[24200,0.08],[25000,0.05],[26000,0.07],[26900,0.1],[27000,0.62],[27200,0.08],[28000,0.05],[29500,0.06]];
const r3MemC5 = [[0,0],[1000,0.02],[2000,0.05],[3000,0.03],[4000,0.07],[5000,0.04],[6000,0.06],[7000,0.03],[8000,0.07],[9000,0.04],[10000,0.06],[11000,0.03],[12000,0.05],[13000,0.07],[14000,0.04],[15000,0.06],[16000,0.03],[17000,0.05],[18000,0.07],[19000,0.04],[20000,0.05],[21000,0.03],[22000,0.06],[23000,0.04],[24000,0.07],[25000,0.05],[26000,0.03],[27000,0.06],[28000,0.04],[29500,0.05]];
const r3MemTGN = [[0,0],[5000,0],[6000,0.04],[8000,0.05],[10000,0.06],[12000,0.07],[14000,0.08],[16000,0.08],[17500,0.09],[18000,0.11],[19500,0.12],[20500,0.12],[21500,0.15],[22000,0.17],[25000,0.17],[26500,0.17],[27000,0.21],[29500,0.21]];

// ---------- layout (pixels of each plot frame) ----------
const COLS = [
  { left: 128, x0: 135, xN: 281, right: 287 },
  { left: 343, x0: 350, xN: 497, right: 503 },
  { left: 573, x0: 576, xN: 722, right: 728 },
  { left: 799, x0: 806.5, xN: 952, right: 958 },
  { left: 1019, x0: 1027, xN: 1172, right: 1178 },
];
const ROWS = [
  { top: 95, y0: 211.7, bottom: 216.7 },
  { top: 259, y0: 375, bottom: 380 },
  { top: 413, y0: 530, bottom: 535 },
];
const Y_W = 50, X_H = 26, PAD_R = 32, PAD_T = 12;

const pts = a => a.map(([x, y]) => ({ x, y }));

function areaSets(layers) {
  return layers.map((d, i) => ({
    data: pts(d), borderWidth: 0, backgroundColor: AREA[i],
    fill: i === 0 ? 'origin' : '-1',
  }));
}

// C1 drawn first (bottom), TGN last (top)
function cargoSets(series) {
  return series.map((d, i) => ({
    data: pts(d), borderColor: LINE[i], borderWidth: i === 5 ? 2.8 : 2.2, fill: false, order: series.length - i,
  }));
}

function entropySets(inter, interDots, intra, intraDots, width, r) {
  const sets = [];
  sets.push({ data: pts(inter), borderColor: INTER, backgroundColor: INTER, borderWidth: width, pointRadius: r, showLine: width > 0 });
  if (interDots) sets.push({ data: pts(interDots), borderColor: INTER, backgroundColor: INTER, pointRadius: 1.8, showLine: false });
  sets.push({ data: pts(intra), borderColor: INTRA, backgroundColor: INTRA, borderWidth: width, pointRadius: r, showLine: width > 0 });
  if (intraDots) sets.push({ data: pts(intraDots), borderColor: INTRA, backgroundColor: INTRA, pointRadius: 1.8, showLine: false });
  return sets;
}

function panel(ci, ri, o) {
  const c = COLS[ci], r = ROWS[ri];
  const cv = document.createElement('canvas');
  const w = c.right - c.left + Y_W + PAD_R;
  const h = r.bottom - r.top + X_H + PAD_T;
  cv.width = w; cv.height = h;
  cv.style.width = w + 'px'; cv.style.height = h + 'px';
  cv.style.left = (c.left - Y_W) + 'px';
  cv.style.top = (r.top - PAD_T) + 'px';
  document.body.appendChild(cv);

  const xPer = o.xMax / (c.xN - c.x0);
  const yPx = o.yPx;
  new Chart(cv, {
    type: 'line',
    data: { datasets: o.datasets },
    options: {
      responsive: false, animation: false, events: [],
      layout: { padding: { left: 0, right: PAD_R, top: PAD_T, bottom: 0 } },
      plugins: { legend: { display: false }, tooltip: { enabled: false } },
      elements: { point: { radius: 0 }, line: { tension: 0 } },
      scales: {
        x: {
          type: 'linear',
          min: -(c.x0 - c.left) * xPer,
          max: o.xMax + (c.right - c.xN) * xPer,
          grid: { display: false, drawTicks: false },
          border: { color: '#a6a6a6', width: 1.5 },
          afterBuildTicks: s => { s.ticks = o.xTicks.map(v => ({ value: v })); },
          afterFit: s => { s.height = X_H; },
          ticks: { color: '#4a4a4a', font: { size: 13 }, padding: 5, maxRotation: 0, autoSkip: false, callback: v => String(v) },
        },
        y: {
          type: 'linear',
          min: -(r.bottom - r.y0) / yPx,
          max: (r.y0 - r.top) / yPx,
          grid: { display: false, drawTicks: false },
          border: { color: '#a6a6a6', width: 1.5 },
          afterBuildTicks: s => { s.ticks = o.yTicks.map(v => ({ value: v })); },
          afterFit: s => { s.width = Y_W; },
          ticks: { color: '#4a4a4a', font: { size: 13 }, padding: 5, autoSkip: false, callback: v => String(v) },
        },
      },
    },
  });
}

Chart.defaults.font.family = 'Lato';

// row 1 – maturation
panel(0, 0, { xMax: 30000, xTicks: X30, yPx: 111, yTicks: Y_FRAC, datasets: areaSets([r1AreaC1, r1AreaC2, r1AreaC3, r1AreaC4, r1AreaC5]) });
panel(1, 0, { xMax: 30000, xTicks: X30, yPx: 69, yTicks: Y_ENT, datasets: entropySets(r1Inter, r1InterDots, r1Intra, null, 3, 0) });
panel(2, 0, { xMax: 30000, xTicks: X30, yPx: 111, yTicks: Y_FRAC, datasets: cargoSets([r1LargeC1, r1LargeC2, r1LargeC3, r1LargeC4, r1LargeC5, r1LargeTGN]) });
panel(3, 0, { xMax: 30000, xTicks: X30, yPx: 111, yTicks: Y_FRAC, datasets: cargoSets([r1SmallC1, r1SmallC2, r1SmallC3, r1SmallC4, r1SmallC5, r1SmallTGN]) });
panel(4, 0, { xMax: 30000, xTicks: X30, yPx: 111, yTicks: Y_FRAC, datasets: cargoSets([r1MemC1, r1MemC2, r1MemC3, r1MemC4, r1MemC5, r1MemTGN]) });

// row 2 – vesicular
panel(0, 1, { xMax: 60000, xTicks: X60, yPx: 111, yTicks: Y_FRAC, datasets: areaSets([r2AreaC1, r2AreaC2, r2AreaC3, r2AreaC4, r2AreaC5]) });
panel(1, 1, { xMax: 60000, xTicks: X60, yPx: 69, yTicks: Y_ENT, datasets: entropySets(r2Inter, r2InterDots, r2Intra, r2IntraDots, 4, 0) });
panel(2, 1, { xMax: 60000, xTicks: X60, yPx: 111, yTicks: Y_ENDS, datasets: cargoSets([r2LargeC1, r2LargeC2, r2LargeC3, r2LargeC4, r2LargeC5, r2LargeTGN]) });
panel(3, 1, { xMax: 60000, xTicks: X60, yPx: 111, yTicks: Y_FRAC, datasets: cargoSets([r2SmallC1, r2SmallC2, r2SmallC3, r2SmallC4, r2SmallC5, r2SmallTGN]) });
panel(4, 1, { xMax: 60000, xTicks: X60, yPx: 111, yTicks: Y_FRAC, datasets: cargoSets([r2MemC1, r2MemC2, r2MemC3, r2MemC4, r2MemC5, r2MemTGN]) });

// row 3 – distillation
panel(0, 2, { xMax: 30000, xTicks: X30, yPx: 111, yTicks: Y_FRAC, datasets: areaSets([r3AreaC1, r3AreaC2, r3AreaC3, r3AreaC4, r3AreaC5]) });
panel(1, 2, { xMax: 30000, xTicks: X30, yPx: 70, yTicks: Y_ENT, datasets: entropySets(r3Inter, null, r3Intra, null, 0, 2) });
panel(2, 2, { xMax: 30000, xTicks: X30, yPx: 111, yTicks: Y_FRAC, datasets: cargoSets([r3LargeC1, r3LargeC2, r3LargeC3, r3LargeC4, r3LargeC5, r3LargeTGN]) });
panel(3, 2, { xMax: 30000, xTicks: X30, yPx: 111, yTicks: Y_FRAC, datasets: cargoSets([r3SmallC1, r3SmallC2, r3SmallC3, r3SmallC4, r3SmallC5, r3SmallTGN]) });
panel(4, 2, { xMax: 30000, xTicks: X30, yPx: 111, yTicks: Y_FRAC, datasets: cargoSets([r3MemC1, r3MemC2, r3MemC3, r3MemC4, r3MemC5, r3MemTGN]) });
</script>

<!-- clipped tick labels of the large-soluble column (the "1" stays whole) -->
<div class="cut" style="left:565px;top:108px;height:112px;"></div>
<div class="cut" style="left:565px;top:426px;height:112px;"></div>

<!-- in-plot annotations -->
<div class="t" style="left:265px;top:111px;font:bold 13px Lato;color:#5d5a3c;">C5</div>
<div class="t" style="left:265px;top:134px;font:bold 13px Lato;color:#fff;">C4</div>
<div class="t" style="left:265px;top:157px;font:bold 13px Lato;color:#fff;">C3</div>
<div class="t" style="left:265px;top:179px;font:bold 13px Lato;color:#fff;">C2</div>
<div class="t" style="left:265px;top:202px;font:bold 13px Lato;color:#fff;">C1</div>
<div class="t" style="left:195px;top:200px;font:bold 12.5px Lato;color:#fff;">vb-p = 0.01</div>
<div class="t" style="left:190px;top:365px;font:bold 12.5px Lato;color:#fff;">hf-p = 1</div>
<div class="t" style="left:198px;top:518px;font:bold 12.5px Lato;color:#fff;">cb-p = 0.01</div>

<div style="position:absolute;left:351px;top:143px;width:10px;height:10px;border-radius:50%;background:#cfc68e;"></div>
<div style="position:absolute;left:351px;top:156px;width:10px;height:10px;border-radius:50%;background:#858048;"></div>
<div style="position:absolute;left:371px;top:140px;font-size:12.5px;color:#555;line-height:15px;">inter-cisternae entropy<br>intra-cisterna entropy</div>
</body>
</html>
